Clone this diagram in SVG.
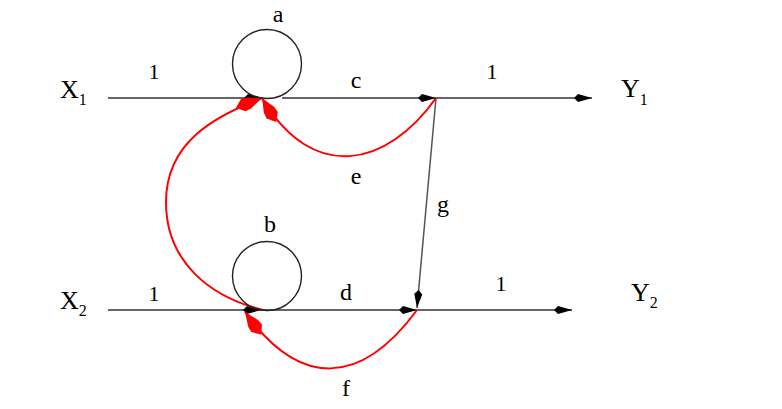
<svg xmlns="http://www.w3.org/2000/svg" width="782" height="409" viewBox="0 0 782 409">
<defs>
<style>
.ln{stroke:#333;stroke-width:1.3;fill:none}
.g{stroke:#555;stroke-width:1.5;fill:none}
.red{stroke:#f00;stroke-width:2;fill:none}
.node{stroke:#222;stroke-width:1.4;fill:none}
text{font-family:"Liberation Serif","Times New Roman",serif;fill:#000}
.lb{font-size:24px}
.dg{font-size:22px}
.io{font-size:26px}
.sub{font-size:16px}
</style>
<marker id="ab" markerUnits="userSpaceOnUse" markerWidth="20" markerHeight="10" refX="18" refY="5" orient="auto" viewBox="0 0 20 10">
<path d="M18,5 L4,1 L0,5 L4,9 Z" fill="#000"/>
</marker>
<marker id="ar" markerUnits="userSpaceOnUse" markerWidth="30" markerHeight="16" refX="28" refY="8" orient="auto" viewBox="0 0 30 16">
<path d="M28,8 L14,2 L8,1.5 L0,8 L8,14.5 L14,14 Z" fill="#f00"/>
</marker>
</defs>
<rect width="782" height="409" fill="#fff"/>
<g id="connectors">
<line class="ln" x1="108" y1="98" x2="262" y2="98" marker-end="url(#ab)"/>
<line class="ln" x1="282" y1="98" x2="436" y2="98" marker-end="url(#ab)"/>
<line class="ln" x1="436" y1="98" x2="592" y2="98" marker-end="url(#ab)"/>
<line class="ln" x1="108" y1="310" x2="261" y2="310" marker-end="url(#ab)"/>
<line class="ln" x1="261" y1="310" x2="417" y2="310" marker-end="url(#ab)"/>
<line class="ln" x1="417" y1="310" x2="572" y2="310" marker-end="url(#ab)"/>
<line class="g" x1="436" y1="98" x2="417" y2="308" marker-end="url(#ab)"/>
<path class="red" d="M436,98 C387,167 313,184 262,98" marker-end="url(#ar)"/>
<path class="red" d="M263,310 C210,297 166,262 166,202 C166,142 215,116 262,98" marker-end="url(#ar)"/>
<path class="red" d="M417,310 C361,386 300,389 245,312" marker-end="url(#ar)"/>
</g>
<g id="node-a">
<circle class="node" cx="267" cy="64" r="34.5"/>
<text class="lb" x="278" y="22" text-anchor="middle">a</text>
</g>
<g id="node-b">
<circle class="node" cx="267" cy="276" r="34.5"/>
<text class="lb" x="270" y="232" text-anchor="middle">b</text>
</g>
<g id="node-x1"><text class="io" x="60" y="98">X<tspan class="sub" dy="7">1</tspan></text></g>
<g id="node-x2"><text class="io" x="60" y="309">X<tspan class="sub" dy="7">2</tspan></text></g>
<g id="node-y1"><text class="io" x="621" y="97">Y<tspan class="sub" dy="8">1</tspan></text></g>
<g id="node-y2"><text class="io" x="631" y="301">Y<tspan class="sub" dy="7">2</tspan></text></g>
<g id="labels">
<text class="dg" x="154" y="79" text-anchor="middle">1</text>
<text class="dg" x="154" y="301" text-anchor="middle">1</text>
<text class="dg" x="492" y="79" text-anchor="middle">1</text>
<text class="dg" x="501" y="291" text-anchor="middle">1</text>
<text class="lb" x="356" y="88" text-anchor="middle">c</text>
<text class="lb" x="356" y="184" text-anchor="middle">e</text>
<text class="lb" x="346" y="300" text-anchor="middle">d</text>
<text class="lb" x="346" y="396" text-anchor="middle">f</text>
<text class="lb" x="443" y="212" text-anchor="middle">g</text>
</g>
</svg>
